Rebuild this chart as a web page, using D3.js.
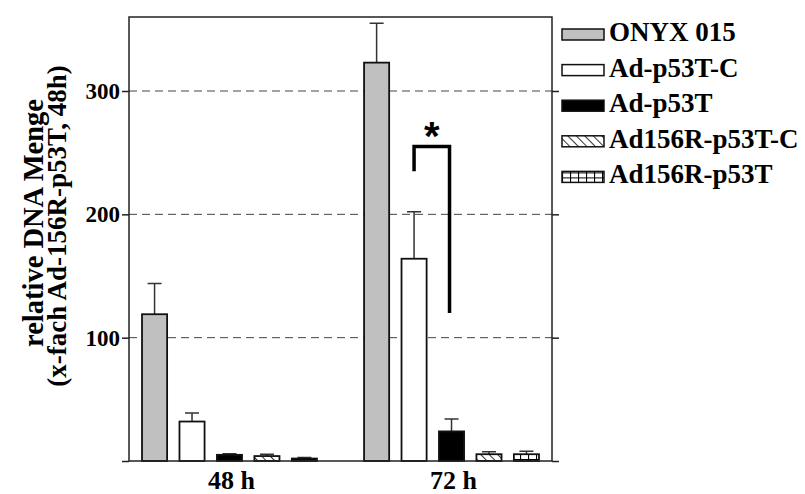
<!DOCTYPE html>
<meta charset="utf-8">
<style>
body { margin: 0; background: #fff; }
text { font-family: "Liberation Serif", "Times New Roman", serif; font-weight: bold; fill: #000; }
.frame { fill: none; stroke: #222; stroke-width: 1.5px; }
.grid line { stroke: #444; stroke-width: 1px; stroke-dasharray: 8,5; }
.bar { stroke: #111; stroke-width: 1.8px; }
.err { stroke: #333; stroke-width: 1.5px; fill: none; }
.bracket { fill: none; stroke: #000; stroke-width: 3.5px; }
</style>
<body>
<script src="https://cdn.jsdelivr.net/npm/d3@7"></script>
<script>

// data
var groups = ["48 h", "72 h"];
var series = ["ONYX 015", "Ad-p53T-C", "Ad-p53T", "Ad156R-p53T-C", "Ad156R-p53T"];
var values48 = [119, 32, 5, 4, 2];
var errors48 = [25, 7, 0.8, 1.5, 0.8];
var values72 = [323, 164, 24, 5.5, 5.5];
var errors72 = [32, 38, 10, 2, 2.5];
var yTicks = [0, 100, 200, 300];
// significance bracket between two 72 h bars (in data units)
var sigFrom = "Ad-p53T-C", sigTo = "Ad-p53T";
var sigTop = 255, sigLeftEnd = 235, sigRightEnd = 120;

var width = 805, height = 494;
var plot = {left: 129, right: 552, top: 17, bottom: 461};

var svg = d3.select("body").append("svg")
    .attr("width", width)
    .attr("height", height);

// patterns for the two hatched series
var defs = svg.append("defs");
var hatch = defs.append("pattern")
    .attr("id", "hatch")
    .attr("patternUnits", "userSpaceOnUse")
    .attr("width", 6).attr("height", 6)
    .attr("patternTransform", "rotate(-45)");
hatch.append("rect").attr("width", 6).attr("height", 6).attr("fill", "#fff");
hatch.append("line").attr("x1", 0).attr("y1", 0).attr("x2", 0).attr("y2", 6)
    .attr("stroke", "#000").attr("stroke-width", 1.6);

var grid = defs.append("pattern")
    .attr("id", "gridpat")
    .attr("patternUnits", "userSpaceOnUse")
    .attr("width", 8).attr("height", 5);
grid.append("rect").attr("width", 8).attr("height", 5).attr("fill", "#fff");
grid.append("path").attr("d", "M0.5,0V5M0,4.5H8")
    .attr("stroke", "#000").attr("stroke-width", 1.2).attr("fill", "none");

var fills = ["#c0c0c0", "#fff", "#000", "url(#hatch)", "url(#gridpat)"];

// scales
var x0 = d3.scaleBand().domain(groups)
    .range([plot.left, plot.right])
    .paddingInner(0.165).paddingOuter(0.035);
var x1 = d3.scaleBand().domain(series)
    .range([0, x0.bandwidth()])
    .paddingInner(0.33).paddingOuter(0.14);
var y = d3.scaleLinear().domain([0, 360]).range([plot.bottom, plot.top]);

var color = d3.scaleOrdinal().domain(series).range(fills);

var table = [];
groups.forEach(function(g, gi) {
  var vals = gi === 0 ? values48 : values72;
  var errs = gi === 0 ? errors48 : errors72;
  series.forEach(function(s, si) {
    table.push({group: g, series: s, value: vals[si], err: errs[si]});
  });
});

// dashed gridlines
svg.append("g")
    .attr("class", "grid")
  .selectAll("line")
  .data(yTicks.filter(function(d) { return d > 0; }))
  .enter().append("line")
    .attr("x1", plot.left).attr("x2", plot.right + 6)
    .attr("y1", function(d) { return y(d); })
    .attr("y2", function(d) { return y(d); });

// error bars (upper only)
svg.append("g")
  .selectAll("path")
  .data(table)
  .enter().append("path")
    .attr("class", "err")
    .attr("d", function(d) {
      var cx = x0(d.group) + x1(d.series) + x1.bandwidth() / 2;
      var yt = y(d.value + d.err);
      return "M" + cx + "," + y(d.value) + "V" + yt + "M" + (cx - 7) + "," + yt + "H" + (cx + 7);
    });

// bars
svg.append("g")
  .selectAll("rect")
  .data(table)
  .enter().append("rect")
    .attr("class", "bar")
    .attr("x", function(d) { return x0(d.group) + x1(d.series); })
    .attr("y", function(d) { return y(d.value); })
    .attr("width", x1.bandwidth())
    .attr("height", function(d) { return y(0) - y(d.value); })
    .attr("fill", function(d) { return color(d.series); });

// frame
svg.append("rect")
    .attr("class", "frame")
    .attr("x", plot.left).attr("y", plot.top)
    .attr("width", plot.right - plot.left)
    .attr("height", plot.bottom - plot.top);

// left axis
var yAxis = svg.append("g")
    .attr("transform", "translate(" + plot.left + ",0)")
    .call(d3.axisLeft(y).tickValues(yTicks).tickSize(7).tickPadding(2)
      .tickFormat(function(d) { return d === 0 ? "" : d; }));
yAxis.select(".domain").remove();
yAxis.selectAll("line").attr("stroke", "#222").attr("stroke-width", 1.5);
yAxis.selectAll("text")
    .style("font-family", "Liberation Serif, serif")
    .style("font-weight", "bold")
    .style("font-size", "23px");

// right axis ticks
var yAxisR = svg.append("g")
    .attr("transform", "translate(" + plot.right + ",0)")
    .call(d3.axisRight(y).tickValues(yTicks).tickSize(7).tickFormat(""));
yAxisR.select(".domain").remove();
yAxisR.selectAll("line").attr("stroke", "#222").attr("stroke-width", 1.5);

// group labels
svg.append("g")
  .selectAll("text")
  .data(groups)
  .enter().append("text")
    .attr("x", function(d) { return x0(d) + x0.bandwidth() / 2 + 2; })
    .attr("y", 489)
    .attr("text-anchor", "middle")
    .style("font-size", "26px")
    .text(function(d) { return d; });

// y axis title
var yt = svg.append("text")
    .attr("transform", "translate(0,226) rotate(-90)")
    .attr("text-anchor", "middle");
yt.append("tspan").attr("x", 3).attr("y", 43)
    .style("font-size", "28.5px").text("relative DNA Menge");
yt.append("tspan").attr("x", 0).attr("y", 66)
    .style("font-size", "27px").text("(x-fach Ad-156R-p53T, 48h)");

// significance bracket
var g72 = groups[1];
var bx1 = x0(g72) + x1(sigFrom) + x1.bandwidth() / 2;
var bx2 = x0(g72) + x1(sigTo) + x1.bandwidth() / 2 - 2;
svg.append("path")
    .attr("class", "bracket")
    .attr("d", "M" + bx1 + "," + y(sigLeftEnd) + "V" + y(sigTop) + "H" + bx2 + "V" + y(sigRightEnd));
svg.append("text")
    .attr("x", (bx1 + bx2) / 2)
    .attr("y", y(sigTop) + 3)
    .attr("text-anchor", "middle")
    .style("font-family", "Liberation Sans, Arial, sans-serif")
    .style("font-size", "40px")
    .text("*");

// legend
var legend = svg.append("g")
  .selectAll("g")
  .data(series)
  .enter().append("g")
    .attr("transform", function(d, i) { return "translate(562," + (41 + i * 35.6) + ")"; });
legend.append("rect")
    .attr("x", 0).attr("y", -12)
    .attr("width", 42).attr("height", 11)
    .attr("fill", function(d) { return color(d); })
    .attr("stroke", "#111").attr("stroke-width", 1.5);
legend.append("text")
    .attr("x", 47).attr("y", 0)
    .style("font-size", "27px")
    .text(function(d) { return d; });

</script>
</body>
